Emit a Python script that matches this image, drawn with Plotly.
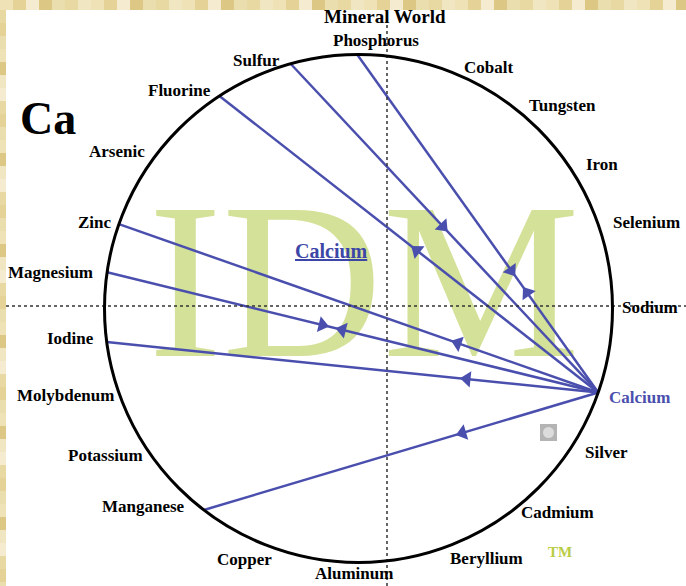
import math
import plotly.graph_objects as go

# ---------------- data ----------------
ELEMENTS = ["Phosphorus", "Cobalt", "Tungsten", "Iron", "Selenium", "Sodium", "Calcium",
            "Silver", "Cadmium", "Beryllium", "Aluminum", "Copper", "Manganese", "Potassium",
            "Molybdenum", "Iodine", "Magnesium", "Zinc", "Arsenic", "Fluorine", "Sulfur"]
# position of each element on the wheel (degrees, counter-clockwise from east)
WHEEL_ANGLE = [90.3, 70, 52, 35, 20, 0, -19.3,
               -35, -53, -70, -90, -115, -127.5, -145,
               -160, -172.4, 171.8, 160.6, 142, 123.2, 105.5]

FOCUS = "Calcium"
LINKED = ["Phosphorus", "Sulfur", "Fluorine", "Zinc", "Magnesium", "Iodine", "Manganese"]
FLOW = ["both", "in", "out", "out", "both", "out", "out"]   # relative to FOCUS

TITLE = "Mineral World"
SYMBOL = "Ca"

# ---------------- layout / style ----------------
W, H = 686, 586
CX, CY, R = 358.5, 308.5, 254.0          # wheel centre / radius in pixels
LINE_BLUE = "#4a4fae"
LABEL_FONT = "Liberation Serif"

# where along each link (fraction from the focus element) the arrowheads sit
ARROW_T = {"Phosphorus": {"in": 0.361, "out": 0.295}, "Sulfur": {"in": 0.505},
           "Fluorine": {"out": 0.479}, "Zinc": {"out": 0.293},
           "Magnesium": {"in": 0.562, "out": 0.521}, "Iodine": {"out": 0.267},
           "Manganese": {"out": 0.344}}

# label placement relative to the wheel point: (xanchor, dx px, dy px down)
LABEL_PLACE = {
    "Phosphorus": ("center", 19, -14.5), "Cobalt": ("left", 16.6, -2.8),
    "Tungsten": ("left", 12, -3.3), "Iron": ("left", 17.5, 1.2),
    "Selenium": ("left", 13.8, 0.4), "Sodium": ("left", 7.5, -1.5),
    "Calcium": ("left", 8.8, 4.6), "Silver": ("left", 16.5, -1.2),
    "Cadmium": ("left", 7.6, 1.6), "Beryllium": ("left", 2.6, 11.8),
    "Aluminum": ("center", -4.5, 10.5), "Copper": ("center", -6.2, 20.3),
    "Manganese": ("right", -16.9, -4), "Potassium": ("right", -5.5, 1.8),
    "Molybdenum": ("right", -3.8, 0.6), "Iodine": ("right", -10.7, -3.1),
    "Magnesium": ("right", -12.1, 0.7), "Zinc": ("right", -4.9, -2.1),
    "Arsenic": ("right", -11.4, -1.1), "Fluorine": ("right", -6.4, -5),
    "Sulfur": ("right", -8.6, -3.7),
}


def wheel_xy(name):
    a = math.radians(WHEEL_ANGLE[ELEMENTS.index(name)])
    return math.cos(a), math.sin(a)


def paper(px, py):
    return px / W, 1 - py / H


fig = go.Figure()

# watermark
wx, wy = (364 - CX) / R, (CY - 300) / R
fig.add_trace(go.Scatter(x=[wx], y=[wy], mode="text", text=["IDM"],
                         textposition="middle center",
                         textfont=dict(family=LABEL_FONT, size=222, color="#d4e198"),
                         hoverinfo="skip", showlegend=False))

# links
fx, fy = wheel_xy(FOCUS)
ax, ay, aang = [], [], []
for name, flow in zip(LINKED, FLOW):
    tx, ty = wheel_xy(name)
    fig.add_trace(go.Scatter(x=[fx, tx], y=[fy, ty], mode="lines",
                             line=dict(color=LINE_BLUE, width=2.5),
                             hoverinfo="skip", showlegend=False))
    dirs = ["in", "out"] if flow == "both" else [flow]
    for d in dirs:
        t = ARROW_T[name][d]
        px_ = fx + (tx - fx) * t
        py_ = fy + (ty - fy) * t
        if d == "out":
            dx, dy = tx - fx, ty - fy
        else:
            dx, dy = fx - tx, fy - ty
        ax.append(px_)
        ay.append(py_)
        aang.append(math.degrees(math.atan2(dx, dy)))

fig.add_trace(go.Scatter(x=ax, y=ay, mode="markers",
                         marker=dict(symbol="triangle-up", size=14, color=LINE_BLUE,
                                     angle=aang, line=dict(width=0)),
                         hoverinfo="skip", showlegend=False))

shapes = []
# parchment border
shades = ["#efe2b6", "#e4d296", "#f4ebd0", "#dcc784", "#ebdeae", "#e8d8a2", "#f1e6c2"]
i = 0
for x0 in range(0, W, 13):
    x_a, _ = paper(x0, 0)
    x_b, _ = paper(min(x0 + 13, W), 0)
    shapes.append(dict(type="rect", xref="paper", yref="paper", x0=x_a, x1=x_b,
                       y0=1 - 10 / H, y1=1, fillcolor=shades[i % len(shades)],
                       line=dict(width=0), layer="above"))
    i += 1
for y0 in range(10, H, 13):
    _, y_a = paper(0, y0)
    _, y_b = paper(0, min(y0 + 13, H))
    shapes.append(dict(type="rect", xref="paper", yref="paper", x0=0, x1=6 / W,
                       y0=y_b, y1=y_a, fillcolor=shades[(i * 3) % len(shades)],
                       line=dict(width=0), layer="above"))
    i += 1

# crosshair
vx, _ = paper(387, 0)
_, hy = paper(0, 306)
shapes.append(dict(type="line", xref="paper", yref="paper", x0=vx, x1=vx,
                   y0=0, y1=1 - 10 / H, line=dict(color="#333", width=1.5, dash="dot"),
                   layer="above"))
shapes.append(dict(type="line", xref="paper", yref="paper", x0=6 / W, x1=1,
                   y0=hy, y1=hy, line=dict(color="#333", width=1.5, dash="dot"),
                   layer="above"))
# wheel
shapes.append(dict(type="circle", xref="x", yref="y", x0=-1, x1=1, y0=-1, y1=1,
                   line=dict(color="black", width=3), layer="above"))
# small grey icon
ix0, iy0 = paper(540, 424)
ix1, iy1 = paper(557, 441)
shapes.append(dict(type="rect", xref="paper", yref="paper", x0=ix0, x1=ix1, y0=iy1, y1=iy0,
                   fillcolor="#b4b4b4", line=dict(width=0), layer="above"))
shapes.append(dict(type="circle", xref="paper", yref="paper", x0=paper(543, 0)[0],
                   x1=paper(554, 0)[0], y0=paper(0, 438)[1], y1=paper(0, 427)[1],
                   fillcolor="#dcdcdc", line=dict(width=0), layer="above"))

annotations = []
for name in ELEMENTS:
    x, y = wheel_xy(name)
    xa, dx, dy = LABEL_PLACE[name]
    color = LINE_BLUE if name == FOCUS else "black"
    annotations.append(dict(x=x, y=y, xref="x", yref="y", text=f"<b>{name}</b>",
                            showarrow=False, xanchor=xa, yanchor="middle",
                            xshift=dx, yshift=-dy,
                            font=dict(family=LABEL_FONT, size=17, color=color)))

tx, ty = paper(385, 17)
annotations.append(dict(x=tx, y=ty, xref="paper", yref="paper", text=f"<b>{TITLE}</b>",
                        showarrow=False, xanchor="center", yanchor="middle",
                        font=dict(family=LABEL_FONT, size=19, color="black")))
sx, sy = paper(18, 118)
annotations.append(dict(x=sx, y=sy, xref="paper", yref="paper", text=f"<b>{SYMBOL}</b>",
                        showarrow=False, xanchor="left", yanchor="middle",
                        font=dict(family=LABEL_FONT, size=46, color="black")))
cx_, cy_ = paper(331, 251)
annotations.append(dict(x=cx_, y=cy_, xref="paper", yref="paper",
                        text=f"<b><u>{FOCUS}</u></b>",
                        showarrow=False, xanchor="center", yanchor="middle",
                        font=dict(family=LABEL_FONT, size=20, color="#3c46a6")))
mx, my = paper(560, 552)
annotations.append(dict(x=mx, y=my, xref="paper", yref="paper", text="<b>TM</b>",
                        showarrow=False, xanchor="center", yanchor="middle",
                        font=dict(family=LABEL_FONT, size=15, color="#b9cc45")))

fig.update_layout(
    width=W, height=H, margin=dict(l=0, r=0, t=0, b=0),
    paper_bgcolor="white", plot_bgcolor="white",
    xaxis=dict(range=[(0 - CX) / R, (W - CX) / R], visible=False, fixedrange=True),
    yaxis=dict(range=[(CY - H) / R, CY / R], visible=False, fixedrange=True),
    shapes=shapes, annotations=annotations, showlegend=False,
)

fig.write_html("out.html", config={"displayModeBar": False},
               post_script="document.body.style.margin='0';document.body.style.overflow='hidden';")
